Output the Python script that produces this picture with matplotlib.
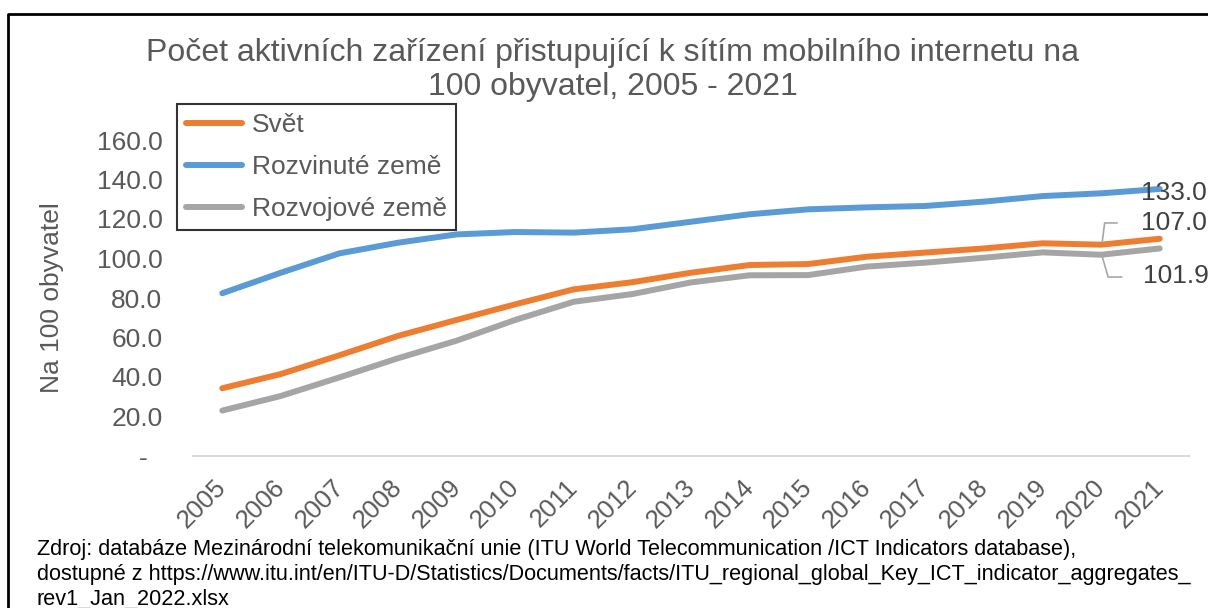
import matplotlib
matplotlib.use("Agg")
import matplotlib.pyplot as plt
from matplotlib.lines import Line2D
from matplotlib.transforms import ScaledTranslation

plt.rcParams['font.family'] = ['Liberation Sans', 'DejaVu Sans']

# data
years = list(range(2005, 2022))
svet = [34.3, 41.5, 51.0, 60.8, 68.9, 76.8, 84.4, 88.0, 92.8, 96.7,
        97.2, 100.9, 103.0, 105.1, 107.7, 107.0, 110.0]
rozvinute = [82.4, 92.8, 102.6, 108.0, 112.2, 113.4, 113.1, 114.8, 118.6, 122.4,
             124.9, 125.9, 126.6, 128.8, 131.6, 133.0, 135.2]
rozvojove = [23.0, 30.4, 39.8, 49.5, 58.4, 68.9, 78.1, 82.0, 87.9, 91.5,
             91.6, 95.9, 97.9, 100.4, 103.1, 101.9, 105.1]
series_names = ["Svět", "Rozvinuté země", "Rozvojové země"]
y_ticks = [0, 20, 40, 60, 80, 100, 120, 140, 160]
y_tick_labels = ["-  ", "20.0", "40.0", "60.0", "80.0", "100.0", "120.0", "140.0", "160.0"]

title = "Počet aktivních zařízení přistupující k sítím mobilního internetu na\n100 obyvatel, 2005 - 2021"
ylabel = "Na 100 obyvatel"
source = ("Zdroj: databáze Mezinárodní telekomunikační unie (ITU World Telecommunication /ICT Indicators database),\n"
          "dostupné z https://www.itu.int/en/ITU-D/Statistics/Documents/facts/ITU_regional_global_Key_ICT_indicator_aggregates_\n"
          "rev1_Jan_2022.xlsx")

colors = ["#ED7D31", "#5B9BD5", "#A5A5A5"]
text_gray = "#595959"

W, H = 1208, 608
fig = plt.figure(figsize=(W / 100, H / 100), dpi=100)

# axes placed by pixel box
left, right, top, bottom = 193, 1189, 140, 456
ax = fig.add_axes([left / W, 1 - bottom / H, (right - left) / W, (bottom - top) / H])

x = list(range(len(years)))
for vals, name, c in zip([svet, rozvinute, rozvojove], series_names, colors):
    ax.plot(x, vals, color=c, lw=4.3, solid_capstyle="round", label=name, clip_on=False)

ax.set_xlim(-0.5, len(years) - 0.5)
ax.set_ylim(0, 160)
ax.set_yticks(y_ticks)
ax.set_yticklabels(y_tick_labels)
ax.set_xticks(x)
ax.set_xticklabels([str(y) for y in years], rotation=45, ha="right", va="top",
                   rotation_mode="anchor")
ax.tick_params(axis="both", length=0, labelsize=19, colors=text_gray)
ax.tick_params(axis="x", labelsize=18.5, pad=14)
ax.tick_params(axis="y", pad=22)
shift = ScaledTranslation(-8 / 100, 0, fig.dpi_scale_trans)
for lab in ax.get_xticklabels():
    lab.set_transform(lab.get_transform() + shift)
for s in ["top", "right", "left"]:
    ax.spines[s].set_visible(False)
ax.spines["bottom"].set_color("#D9D9D9")
ax.spines["bottom"].set_linewidth(1.5)

ax.set_ylabel(ylabel, fontsize=19, color=text_gray)
ax.yaxis.set_label_coords((64 - left) / (right - left), 0.5)

# end labels (2020 values) with leader lines
i20 = years.index(2020)
ax.text(15.68, 133.0, f"{rozvinute[i20]:.1f}", fontsize=19, color="#404040",
        ha="left", va="center", clip_on=False)
ax.text(15.68, 118.0, f"{svet[i20]:.1f}", fontsize=19, color="#404040",
        ha="left", va="center", clip_on=False)
ax.text(15.72, 91.0, f"{rozvojove[i20]:.1f}", fontsize=19, color="#404040",
        ha="left", va="center", clip_on=False)
ax.plot([15.27, 15.06, 15.02], [118.0, 118.0, svet[i20] + 1.5], color="#A6A6A6", lw=1.2)
ax.plot([15.35, 15.12, 15.02], [90.6, 90.6, rozvojove[i20] - 1.0], color="#A6A6A6", lw=1.2)

leg = ax.legend(loc="upper left", bbox_to_anchor=(177 / W, 1 - 104 / H),
                bbox_transform=fig.transFigure, borderaxespad=0, fontsize=19,
                frameon=True, fancybox=False, handlelength=2.1, handletextpad=0.4,
                labelspacing=0.68, borderpad=0.35)
leg.get_frame().set_edgecolor("black")
leg.get_frame().set_linewidth(1.5)
for t in leg.get_texts():
    t.set_color(text_gray)

fig.text(613 / W, 1 - 70 / H, title, fontsize=23, color=text_gray,
         ha="center", va="center", linespacing=1.15)

fig.text(37 / W, 1 - 539 / H, source, fontsize=15.6, color="black",
         ha="left", va="top", linespacing=1.25)

# outer frame (top and left edges visible)
fig.add_artist(Line2D([8 / W, 8 / W, 1.0], [0.0, 1 - 14 / H, 1 - 14 / H],
                      transform=fig.transFigure, color="black", lw=2))

fig.savefig("out.png", dpi=100)
